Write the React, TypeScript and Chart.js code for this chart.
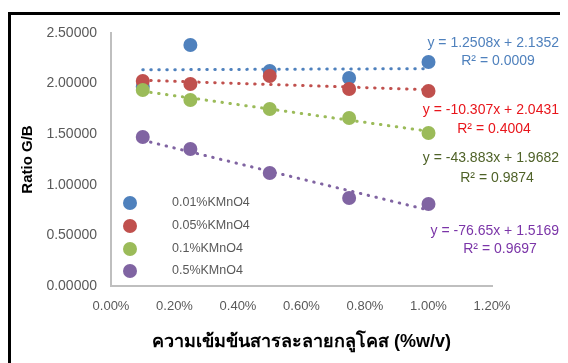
import React, { useEffect, useRef } from "react";
import { Chart, registerables } from "chart.js";

Chart.register(...registerables);

const xValues = [0.001, 0.0025, 0.005, 0.0075, 0.01];
const seriesNames = ["0.01%KMnO4", "0.05%KMnO4", "0.1%KMnO4", "0.5%KMnO4"];
const blueValues = [1.97, 2.381, 2.125, 2.055, 2.213];
const redValues = [2.026, 1.996, 2.075, 1.947, 1.927];
const greenValues = [1.937, 1.838, 1.749, 1.66, 1.512];
const purpleValues = [1.472, 1.354, 1.117, 0.87, 0.81];
const seriesValues = [blueValues, redValues, greenValues, purpleValues];
const slopes = [1.2508, -10.307, -43.883, -76.65];
const intercepts = [2.1352, 2.0431, 1.9682, 1.5169];
const equationLabels = [
  "y = 1.2508x + 2.1352",
  "y = -10.307x + 2.0431",
  "y = -43.883x + 1.9682",
  "y = -76.65x + 1.5169",
];
const r2Labels = ["R² = 0.0009", "R² = 0.4004", "R² = 0.9874", "R² = 0.9697"];
const xTickValues = [0, 0.002, 0.004, 0.006, 0.008, 0.01, 0.012];
const yTickValues = [0, 0.5, 1, 1.5, 2, 2.5];
const yTitle = "Ratio G/B";
const xTitle = "ความเข้มข้นสารละลายกลูโคส (%w/v)";

const pointColors = ["#4F81BD", "#C0504D", "#9BBB59", "#8064A2"];
const labelColors = ["#4F81BD", "#E8151B", "#4F6228", "#7B35A8"];
const FONT = "'Liberation Sans', Arial, sans-serif";

export default function App() {
  const canvasRef = useRef<HTMLCanvasElement | null>(null);

  useEffect(() => {
    document.documentElement.style.overflow = "hidden";
    document.body.style.overflow = "hidden";
    const canvas = canvasRef.current;
    if (!canvas) return;

    const datasets: any[] = [];
    seriesValues.forEach((vals, i) => {
      datasets.push({
        type: "scatter",
        label: seriesNames[i],
        data: vals.map((v, j) => ({ x: xValues[j], y: v })),
        backgroundColor: pointColors[i],
        borderWidth: 0,
        pointRadius: 7,
        pointHoverRadius: 7,
        showLine: false,
        order: 4 - i,
      });
    });
    seriesValues.forEach((_, i) => {
      const x0 = xValues[0];
      const x1 = xValues[xValues.length - 1];
      datasets.push({
        type: "line",
        label: "trend " + seriesNames[i],
        data: [
          { x: x0, y: slopes[i] * x0 + intercepts[i] },
          { x: x1, y: slopes[i] * x1 + intercepts[i] },
        ],
        borderColor: pointColors[i],
        borderWidth: 3,
        borderDash: [0.5, 7.5],
        borderCapStyle: "round",
        pointRadius: 0,
        fill: false,
        order: 10 + i,
      });
    });

    const legendPos = [{ y: 195 }, { y: 218 }, { y: 241 }, { y: 263 }];
    const eqPos = [
      { x: 551, y: 35, rx: 490, ry: 53 },
      { x: 551, y: 102, rx: 486, ry: 121 },
      { x: 551, y: 150, rx: 489, ry: 170 },
      { x: 551, y: 223, rx: 492, ry: 241 },
    ];

    const overlay = {
      id: "overlay",
      afterDraw(chart: any) {
        const ctx = chart.ctx;
        ctx.save();
        ctx.textBaseline = "middle";
        ctx.textAlign = "left";
        ctx.font = `12.5px ${FONT}`;
        seriesNames.forEach((name, i) => {
          ctx.fillStyle = pointColors[i];
          ctx.beginPath();
          ctx.arc(122, legendPos[i].y, 7, 0, Math.PI * 2);
          ctx.fill();
          ctx.fillStyle = "#595959";
          ctx.fillText(name, 164, legendPos[i].y);
        });
        ctx.font = `14px ${FONT}`;
        equationLabels.forEach((t, i) => {
          ctx.fillStyle = labelColors[i];
          ctx.textAlign = "right";
          ctx.fillText(t, eqPos[i].x, eqPos[i].y);
          ctx.textAlign = "center";
          ctx.fillText(r2Labels[i], eqPos[i].rx, eqPos[i].ry);
        });
        ctx.restore();
      },
    };

    const chart = new Chart(canvas, {
      type: "scatter",
      data: { datasets },
      options: {
        animation: false,
        responsive: false,
        devicePixelRatio: 1,
        layout: { padding: { left: 0, top: 25, right: 76, bottom: 0 } },
        plugins: {
          legend: { display: false },
          tooltip: { enabled: false },
        },
        scales: {
          x: {
            type: "linear",
            min: 0,
            max: 0.012,
            afterFit(scale: any) {
              scale.height = 77;
            },
            afterBuildTicks(scale: any) {
              scale.ticks = xTickValues.map((v) => ({ value: v }));
            },
            grid: { display: true, drawOnChartArea: false, drawTicks: false },
            border: { display: true, color: "#BFBFBF", width: 2 },
            ticks: {
              padding: 13,
              color: "#595959",
              font: { family: FONT, size: 13 },
              callback: (v: any) => (Number(v) * 100).toFixed(2) + "%",
            },
            title: {
              display: true,
              text: xTitle,
              color: "#000000",
              font: { family: FONT, size: 18, weight: "bold" },
              padding: { top: 0, bottom: 10 },
            },
          },
          y: {
            type: "linear",
            min: 0,
            max: 2.5,
            afterFit(scale: any) {
              scale.width = 103;
            },
            afterBuildTicks(scale: any) {
              scale.ticks = yTickValues.map((v) => ({ value: v }));
            },
            grid: { display: true, drawOnChartArea: false, drawTicks: false },
            border: { display: true, color: "#BFBFBF", width: 2 },
            ticks: {
              padding: 14,
              color: "#595959",
              font: { family: FONT, size: 14 },
              callback: (v: any) => Number(v).toFixed(5),
            },
            title: {
              display: true,
              text: yTitle,
              color: "#000000",
              font: { family: FONT, size: 15, weight: "bold" },
              padding: { top: 11, bottom: 0 },
            },
          },
        },
      },
      plugins: [overlay],
    } as any);

    return () => {
      chart.destroy();
    };
  }, []);

  return (
    <div style={{ position: "relative", width: 560, height: 355, overflow: "hidden" }}>
      <div
        style={{
          position: "absolute",
          left: 0,
          top: 4,
          width: 640,
          height: 420,
          border: "3px solid #000",
          boxSizing: "border-box",
          background: "#fff",
        }}
      />
      <canvas
        ref={canvasRef}
        width={560}
        height={355}
        style={{ position: "absolute", left: 0, top: 0, width: 560, height: 355 }}
      />
    </div>
  );
}
